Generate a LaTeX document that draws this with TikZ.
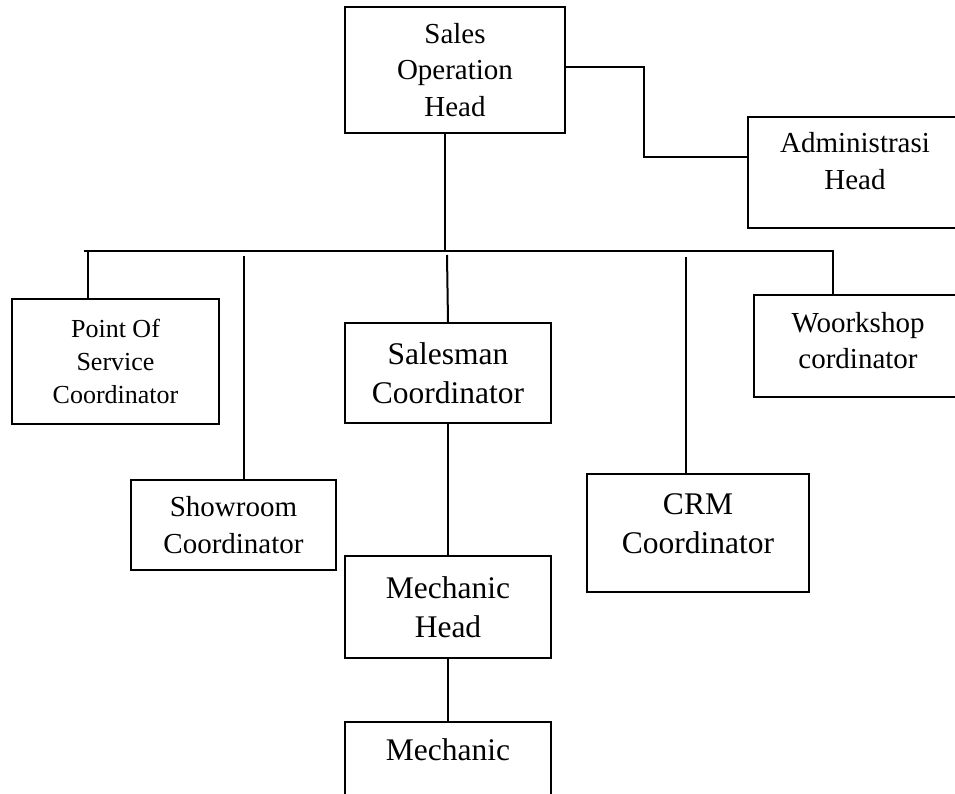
\documentclass[tikz,border=0pt]{standalone}
\usepackage{fontspec}
\setmainfont{Liberation Serif}

\begin{document}
\begin{tikzpicture}[x=1pt, y=-1pt, line width=2pt]
        \tikzstyle{every node}=[align=center, inner sep=0pt]
        \tikzstyle{box}=[draw, rectangle]
        \tikzstyle{small}=[font=\fontsize{26}{33}\selectfont]
        \tikzstyle{medium}=[font=\fontsize{29}{36.5}\selectfont]
        \tikzstyle{large}=[font=\fontsize{31.5}{39}\selectfont]
        \useasboundingbox (0,0) rectangle (955,794);
        \clip (0,0) rectangle (955,794);
        % boxes
        \node [box, medium, minimum width=220pt, minimum height=126pt] (salesop) at (455,70) {Sales\\Operation\\Head};
        \node [box, medium, minimum width=214pt, minimum height=111pt, text depth=23pt] (admin) at (855,172.5) {Administrasi\\Head};
        \node [box, small, minimum width=207pt, minimum height=125pt] (pos) at (115.5,361.5) {Point Of\\Service\\Coordinator};
        \node [box, medium, minimum width=205pt, minimum height=90pt] (showroom) at (233.5,525) {Showroom\\Coordinator};
        \node [box, large, minimum width=206pt, minimum height=100pt] (salesman) at (448,373) {Salesman\\Coordinator};
        \node [box, medium, minimum width=208pt, minimum height=102pt, text depth=11pt] (workshop) at (858,346) {Woorkshop\\cordinator};
        \node [box, large, minimum width=222pt, minimum height=118pt, text depth=18pt] (crm) at (698,533) {CRM\\Coordinator};
        \node [box, large, minimum width=206pt, minimum height=102pt] (mechhead) at (448,607) {Mechanic\\Head};
        \node [box, large, minimum width=206pt, minimum height=108pt, text depth=53pt] (mechanic) at (448,776) {Mechanic};
        % bus and drop points
        \coordinate (busl) at (84,251);
        \coordinate (busr) at (833,251);
        \coordinate (busc) at (445,251);
        \coordinate (elbow) at (644,157);
        \coordinate (posdrop) at (88,251);
        \coordinate (showdrop) at (244,256);
        \coordinate (salesdrop) at (447,255);
        \coordinate (crmdrop) at (686,257);
        % connectors
        \draw ([yshift=3pt]salesop.east) -| (elbow) -- (elbow -| admin.west);
        \draw ([xshift=-10pt]salesop.south) -- (busc);
        \draw (busl) -- (busr) -- (busr |- workshop.north);
        \draw (posdrop) -- (posdrop |- pos.north);
        \draw (showdrop) -- (showdrop |- showroom.north);
        \draw (salesdrop) -- (salesman.north);
        \draw (crmdrop) -- (crmdrop |- crm.north);
        \draw (salesman.south) -- (mechhead.north);
        \draw (mechhead.south) -- (mechanic.north);
\end{tikzpicture}
\end{document}
